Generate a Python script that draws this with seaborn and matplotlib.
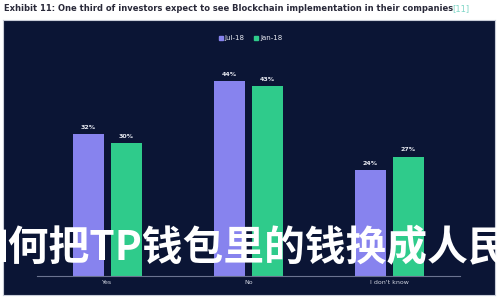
import matplotlib
matplotlib.use("Agg")
import matplotlib.pyplot as plt
import seaborn as sns
import pandas as pd
from matplotlib.lines import Line2D

categories = ["Yes", "No", "I don't know"]
series_names = ["Jul-18", "Jan-18"]
jul18 = [32, 44, 24]
jan18 = [30, 43, 27]
title = "Exhibit 11: One third of investors expect to see Blockchain implementation in their companies"
ref = "[11]"
watermark = "如何把TP钱包里的钱换成人民币"

df = pd.DataFrame({
    "cat": categories * 2,
    "series": [series_names[0]] * 3 + [series_names[1]] * 3,
    "val": jul18 + jan18,
})

sns.set_theme(style="white")
plt.rcParams['font.family'] = ['DejaVu Sans', 'Noto Sans CJK SC']

navy = "#0b1535"
purple = "#8783ee"
green = "#2fcb8b"

fig = plt.figure(figsize=(5, 3), dpi=100, facecolor="white")
bg = fig.add_axes([0.006, 0.017, 0.984, 0.917], zorder=-5)
bg.set_facecolor(navy)
bg.set_xticks([]); bg.set_yticks([])
for s in bg.spines.values():
    s.set_color("#c8ccd8"); s.set_linewidth(0.8)

ax = fig.add_axes([0.074, 0.08, 0.846, 0.737], zorder=1)
ax.set_facecolor("none")
sns.barplot(data=df, x="cat", y="val", hue="series", order=categories,
            hue_order=series_names, palette=[purple, green], width=0.54, gap=0.2,
            ax=ax, legend=False, saturation=1, linewidth=0, edgecolor="none")
ax.set_ylim(0, 50)
ax.set_xlim(-0.5, 2.5)
ax.set_xlabel("")
ax.set_ylabel("")
ax.set_yticks([])
for s in ["top", "right", "left"]:
    ax.spines[s].set_visible(False)
ax.spines["bottom"].set_color("#6b7390")
ax.spines["bottom"].set_linewidth(0.8)
ax.tick_params(axis="x", colors="#d0d4e0", labelsize=4.5, length=0, pad=3)
for c in ax.containers:
    ax.bar_label(c, labels=[f"{int(v)}%" for v in c.datavalues], color="#e8eaf2",
                 fontsize=4.5, fontweight="bold", padding=3)

handles = [Line2D([], [], marker="s", linestyle="", color=purple, markersize=3),
           Line2D([], [], marker="s", linestyle="", color=green, markersize=3)]
fig.legend(handles, series_names, loc="center", bbox_to_anchor=(0.5, 0.872), ncol=2,
           frameon=False, fontsize=5, labelcolor="#e8eaf2", handletextpad=0.2,
           columnspacing=1.2, handlelength=0.8)

fig.text(0.008, 0.972, title, fontsize=6.0, fontweight="bold", color="#2a2a3a", va="center")
fig.text(0.905, 0.972, ref, fontsize=6.0, color="#7fd6c6", va="center")

fig.text(0.517, 0.17, watermark, fontsize=29.3, fontweight="bold", color="white",
         ha="center", va="center", family=['Noto Sans CJK SC', 'DejaVu Sans'], zorder=10)

fig.savefig("out.png", dpi=100, facecolor="white")
